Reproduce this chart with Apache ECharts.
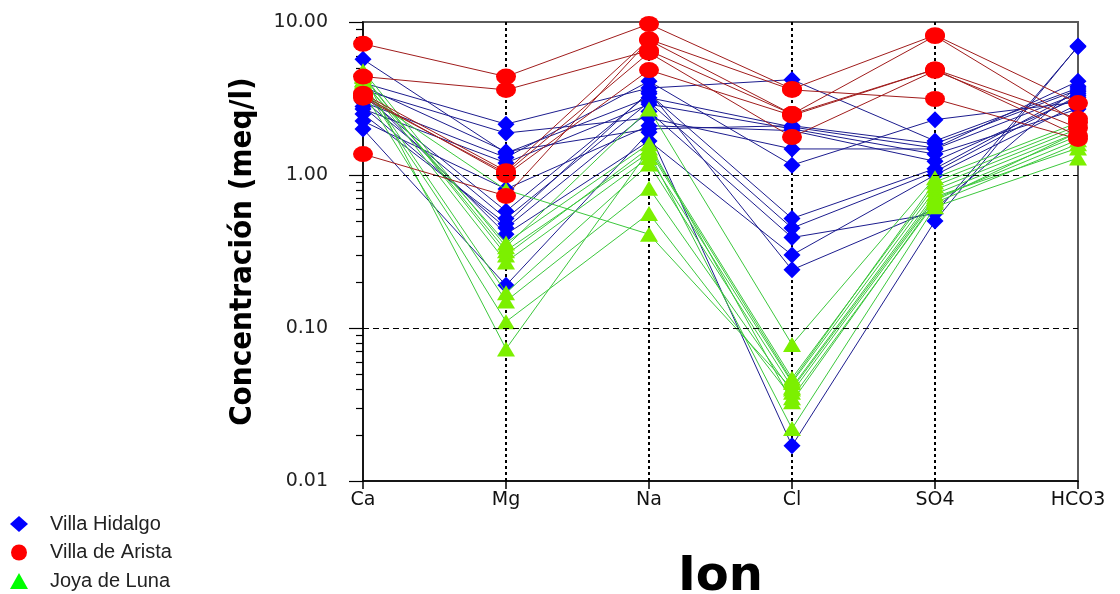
<!DOCTYPE html>
<html>
<head>
<meta charset="utf-8">
<script src="https://cdn.jsdelivr.net/npm/echarts@6/dist/echarts.min.js"></script>
<style>
html,body{margin:0;padding:0;background:#fff;}
#chart{width:1120px;height:594px;}
</style>
</head>
<body>
<div id="chart"></div>
<script>
// Categories (ions)
var ions = ['Ca', 'Mg', 'Na', 'Cl', 'SO4', 'HCO3'];
var yTickLabels = [0.01, 0.1, 1, 10];
var minorTicks = [0.02,0.03,0.04,0.05,0.06,0.07,0.08,0.09,0.2,0.3,0.4,0.5,0.6,0.7,0.8,0.9,2,3,4,5,6,7,8,9];

// Villa Hidalgo samples (meq/l): Ca, Mg, Na, Cl, SO4, HCO3
var villaHidalgo = [
  [5.7, 1.39, 3.2, 2.06, 1.5, 4.1],
  [4.0, 2.15, 3.7, 4.2, 1.67, 3.7],
  [3.6, 1.88, 2.36, 1.48, 1.48, 3.4],
  [3.0, 1.3, 4.1, 1.16, 2.3, 3.0],
  [2.7, 1.2, 2.9, 2.0, 1.37, 2.7],
  [2.25, 0.81, 2.1, 1.95, 1.23, 3.2],
  [2.0, 0.19, 1.9, 0.017, 0.5, 6.96],
  [3.3, 0.58, 3.4, 0.52, 1.1, 3.5],
  [3.1, 0.52, 3.0, 0.45, 1.05, 3.3],
  [2.8, 0.45, 2.6, 0.39, 0.56, 6.9],
  [3.5, 0.41, 1.67, 0.30, 1.0, 2.9],
  [2.5, 0.48, 3.5, 0.24, 0.6, 3.8],
  [3.8, 1.42, 2.0, 2.1, 1.6, 3.6]
];

// Villa de Arista samples
var villaArista = [
  [7.2, 4.4, 9.7, 3.65, 8.2, 2.95],
  [4.4, 3.6, 6.5, 2.5, 4.9, 2.33],
  [3.4, 1.06, 7.7, 3.6, 3.14, 1.72],
  [3.2, 1.03, 6.3, 1.77, 4.8, 2.03],
  [1.37, 0.73, 7.6, 2.5, 8.1, 2.2],
  [3.3, 1.0, 4.85, 2.45, 4.9, 1.8]
];

// Joya de Luna samples
var joyaLuna = [
  [4.8, 0.34, 2.7, 0.078, 0.96, 2.2],
  [4.5, 0.30, 1.5, 0.047, 0.85, 2.0],
  [4.2, 0.27, 1.3, 0.044, 0.8, 1.9],
  [4.0, 0.17, 1.18, 0.041, 0.75, 1.8],
  [3.8, 0.15, 0.82, 0.038, 0.7, 1.7],
  [3.5, 0.11, 0.56, 0.035, 0.66, 1.6],
  [4.6, 0.073, 1.45, 0.045, 0.9, 2.1],
  [4.4, 0.32, 1.4, 0.022, 0.62, 1.29],
  [3.4, 0.80, 0.41, 0.040, 0.72, 1.5],
  [4.1, 0.36, 1.6, 0.033, 0.68, 1.9]
];

var groups = [
  {name: 'Villa Hidalgo', data: villaHidalgo, symbol: 'diamond', size: [17, 17], marker: '#0000ff', line: '#1c1c8e', legendColor: '#0000ff'},
  {name: 'Joya de Luna', data: joyaLuna, symbol: 'triangle', size: [18, 15], marker: '#7cf000', line: '#3cc83c', legendColor: '#00ff00'},
  {name: 'Villa de Arista', data: villaArista, symbol: 'circle', size: [20, 16], marker: '#ff0000', line: '#a01c1c', legendColor: '#ff0000'}
];

var series = [];
groups.forEach(function (g, gi) {
  g.data.forEach(function (sample) {
    series.push({
      name: g.name,
      type: 'line',
      data: sample,
      symbol: g.symbol,
      symbolSize: g.size,
      showSymbol: true,
      itemStyle: {color: g.marker},
      lineStyle: {color: g.line, width: 1},
      z: 2 + gi,
      animation: false,
      emphasis: {disabled: true}
    });
  });
});
// reference lines at 1 and 0.1
series.push({
  type: 'line', data: [], silent: true,
  markLine: {
    silent: true, symbol: ['none', 'none'], label: {show: false},
    lineStyle: {color: '#000', type: [6, 4], width: 1},
    data: [{yAxis: 1}, {yAxis: 0.1}]
  },
  z: 1
});

var order = ['Villa Hidalgo', 'Villa de Arista', 'Joya de Luna'];
var tickFont = "'DejaVu Sans', Verdana, sans-serif";
var chart = echarts.init(document.getElementById('chart'));
chart.setOption({
  animation: false,
  backgroundColor: '#fff',
  grid: {left: 363, right: 42, top: 22, bottom: 113, show: true, borderColor: '#5a5a5a', borderWidth: 2,
    backgroundColor: 'transparent', containLabel: false, outerBoundsMode: 'none'},
  legend: {
    orient: 'vertical', left: 10, top: 514, itemGap: 8.5, padding: 0, height: 79,
    itemWidth: 18, itemHeight: 16,
    textStyle: {fontSize: 20, lineHeight: 20, color: '#222', fontFamily: 'Liberation Sans, Arial, sans-serif', padding: [0, 0, 0, 17]},
    data: order.map(function (n) {
      var g = groups.filter(function (x) { return x.name === n; })[0];
      return {name: g.name, icon: g.symbol, itemStyle: {color: g.legendColor}};
    })
  },
  xAxis: {
    type: 'category', data: ions, boundaryGap: false,
    name: 'Ion', nameLocation: 'middle', nameGap: 73,
    nameTextStyle: {fontSize: 48, fontWeight: 'bold', color: '#000', fontFamily: tickFont},
    axisLine: {lineStyle: {color: '#000', width: 1.5}},
    axisTick: {show: true, length: 8, lineStyle: {color: '#000', width: 1.5}},
    axisLabel: {fontSize: 19, color: '#111', margin: 10, fontFamily: tickFont},
    splitLine: {show: true, interval: function (i) { return i > 0 && i < ions.length - 1; }, lineStyle: {color: '#000', type: [3, 3], width: 2}}
  },
  yAxis: [{
    type: 'log', logBase: 10, min: 0.01, max: 10,
    name: 'Concentración (meq/l)', nameLocation: 'middle', nameGap: 105, nameRotate: 90,
    nameTextStyle: {fontSize: 31, fontWeight: 'bold', color: '#000', fontFamily: "'Liberation Sans Narrow', 'Arial Narrow', 'DejaVu Sans Condensed', sans-serif"},
    axisLine: {show: true, lineStyle: {color: '#000', width: 1.5}},
    axisTick: {show: true, length: 14, lineStyle: {color: '#000', width: 1.2}},
    axisLabel: {fontSize: 19, color: '#222', margin: 35, fontFamily: tickFont,
      customValues: yTickLabels,
      formatter: function (v) { return Number(v).toFixed(2); }},
    splitLine: {show: false}
  }, {
    type: 'log', logBase: 10, min: 0.01, max: 10, position: 'left', offset: 0,
    axisLine: {show: false},
    axisTick: {show: true, length: 7, customValues: minorTicks, lineStyle: {color: '#000', width: 1.2}},
    axisLabel: {show: false},
    splitLine: {show: false}
  }],
  series: series
});
</script>
</body>
</html>
